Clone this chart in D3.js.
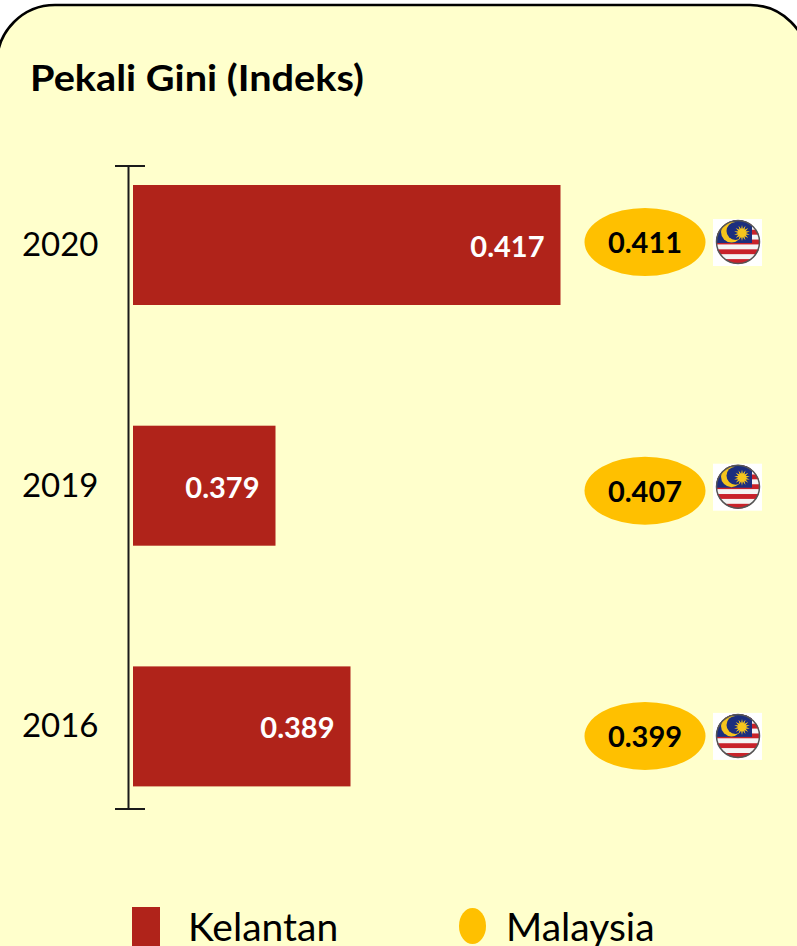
<!DOCTYPE html>
<html><head><meta charset="utf-8">
<script src="https://cdn.jsdelivr.net/npm/d3@7"></script>
<style>html,body{margin:0;padding:0;background:#fff;overflow:hidden}svg{display:block}text{font-family:Lato,"Open Sans",sans-serif}</style>
</head><body><svg id="c" width="797" height="946"></svg>
<script>
const years = ["2020","2019","2016"];
const kelantan = [0.417,0.379,0.389];
const malaysia = [0.411,0.407,0.399];
const legendLabels = ["Kelantan","Malaysia"];
const title = "Pekali Gini (Indeks)";
const flagStripeColors = ["#c8202c","#f4f4f4"];
const flagStripes = d3.range(9);

const svg = d3.select("#c");
const defs = svg.append("defs");
const RED="#B0231A", GOLD="#FFC000", BG="#FFFFCC";

svg.append("rect").attr("x",-3).attr("y",5).attr("width",811).attr("height",1000).attr("rx",58).attr("ry",58)
  .attr("fill",BG).attr("stroke","#000").attr("stroke-width",2.6);

svg.append("text").attr("x",30).attr("y",91).attr("font-size",36).attr("font-weight",700).attr("fill","#000")
  .attr("textLength",334).attr("lengthAdjust","spacingAndGlyphs").text(title);

const x = d3.scaleLinear().domain([0.36,0.417]).range([133,560.5]);
const yc = d3.scalePoint().domain(years).range([245,726.4]);
const barH = 120;

const axis = svg.append("g").attr("stroke","#1a1a1a").attr("stroke-width",2);
axis.append("line").attr("x1",128.5).attr("x2",128.5).attr("y1",166).attr("y2",809);
axis.append("line").attr("x1",115).attr("x2",145).attr("y1",166).attr("y2",166);
axis.append("line").attr("x1",115).attr("x2",145).attr("y1",809).attr("y2",809);

svg.selectAll("text.yr").data(years).join("text").attr("class","yr")
  .attr("x",98.5).attr("y",d=>yc(d)+11).attr("text-anchor","end").attr("font-size",33).attr("fill","#000").text(d=>d);

svg.selectAll("rect.bar").data(years).join("rect").attr("class","bar")
  .attr("x",x(0.36)).attr("width",(d,i)=>x(kelantan[i])-x(0.36))
  .attr("y",d=>yc(d)-barH/2).attr("height",barH).attr("fill",RED);

svg.selectAll("text.val").data(years).join("text").attr("class","val")
  .attr("x",(d,i)=>x(kelantan[i])-16).attr("y",(d,i)=>yc(d)+12).attr("text-anchor","end")
  .attr("font-size",29).attr("font-weight",700).attr("fill","#fff").text((d,i)=>kelantan[i].toFixed(3));

const ellOff=[-3,5,9.5], flagOff=[-3,1,9.5];
svg.selectAll("ellipse.m").data(years).join("ellipse").attr("class","m")
  .attr("cx",645).attr("cy",(d,i)=>yc(d)+ellOff[i]).attr("rx",60.5).attr("ry",34).attr("fill",GOLD);
svg.selectAll("text.mv").data(years).join("text").attr("class","mv")
  .attr("x",645).attr("y",(d,i)=>yc(d)+ellOff[i]+11).attr("text-anchor","middle")
  .attr("font-size",29).attr("font-weight",700).attr("fill","#000").text((d,i)=>malaysia[i].toFixed(3));

// flags
const R=22;
defs.append("clipPath").attr("id","fc").append("circle").attr("r",R);
defs.append("filter").attr("id","soft").append("feGaussianBlur").attr("stdDeviation",0.7);
const star = d3.range(28).map(i=>{const a=i*Math.PI/14,r=i%2?4:8;return [r*Math.sin(a),-r*Math.cos(a)].join(",");}).join(" ");
const flags = svg.selectAll("g.flag").data(years).join("g").attr("class","flag")
  .attr("transform",(d,i)=>`translate(738,${yc(d)+flagOff[i]})`);
flags.append("rect").attr("x",-25).attr("y",-23).attr("width",49).attr("height",47).attr("fill","#fff");
const soft = flags.append("g").attr("filter","url(#soft)");
const inner = soft.append("g").attr("clip-path","url(#fc)");
inner.selectAll("rect.s").data(flagStripes).join("rect").attr("class","s")
  .attr("x",-R).attr("width",2*R).attr("y",s=>-R+s*(2*R/9)).attr("height",2*R/9+.5)
  .attr("fill",s=>flagStripeColors[s%2]);
inner.append("rect").attr("x",-R).attr("y",-R).attr("width",36).attr("height",23).attr("fill","#1d2f7e");
inner.append("circle").attr("cx",-6.5).attr("cy",-10).attr("r",10.5).attr("fill","#f6c51e");
inner.append("circle").attr("cx",-2.5).attr("cy",-11).attr("r",9).attr("fill","#1d2f7e");
inner.append("polygon").attr("points",star).attr("transform","translate(4,-9)").attr("fill","#f6c51e");
soft.append("circle").attr("r",R-.5).attr("fill","none").attr("stroke","#555").attr("stroke-width",1.5);

// legend
svg.append("rect").attr("x",132).attr("y",907).attr("width",28).attr("height",45).attr("fill",RED);
svg.append("text").attr("x",188).attr("y",941).attr("font-size",39).attr("fill","#000").text(legendLabels[0]);
svg.append("ellipse").attr("cx",472.5).attr("cy",926).attr("rx",13.5).attr("ry",18).attr("fill",GOLD);
svg.append("text").attr("x",506).attr("y",941).attr("font-size",39).attr("fill","#000").text(legendLabels[1]);
</script></body></html>
